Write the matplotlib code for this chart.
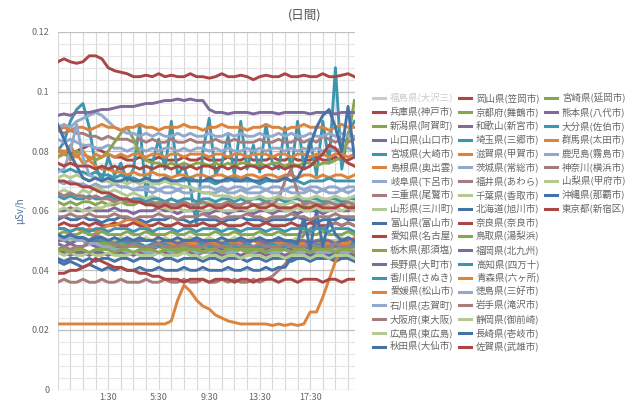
import numpy as np
import matplotlib
matplotlib.use("Agg")
import matplotlib.pyplot as plt
from matplotlib.lines import Line2D

plt.rcParams['font.family'] = ['Noto Sans CJK JP', 'DejaVu Sans']

# readings every 30 min, x = hours after 21:30 of the previous day
hours = np.arange(48) * 0.5
tick_hours = [4, 8, 12, 16, 20]
tick_labels = ["1:30", "5:30", "9:30", "13:30", "17:30"]
ytick_vals = [0, 0.02, 0.04, 0.06, 0.08, 0.1, 0.12]
ytick_labels = ["0", "0.02", "0.04", "0.06", "0.08", "0.1", "0.12"]

names = ["福島県(大沢三)", "兵庫県(神戸市)", "新潟県(阿賀町)", "山口県(山口市)", "宮城県(大崎市)",
         "島根県(奥出雲)", "岐阜県(下呂市)", "三重県(尾鷲市)", "山形県(三川町)", "富山県(富山市)",
         "愛知県(名古屋)", "栃木県(那須塩)", "長野県(大町市)", "香川県(さぬき)", "愛媛県(松山市)",
         "石川県(志賀町)", "大阪府(東大阪)", "広島県(東広島)", "秋田県(大仙市)",
         "岡山県(笠岡市)", "京都府(舞鶴市)", "和歌山(新宮市)", "埼玉県(三郷市)", "滋賀県(甲賀市)",
         "茨城県(常総市)", "福井県(あわら)", "千葉県(香取市)", "北海道(旭川市)", "奈良県(奈良市)",
         "鳥取県(湯梨浜)", "福岡県(北九州)", "高知県(四万十)", "青森県(六ヶ所)", "徳島県(三好市)",
         "岩手県(滝沢市)", "静岡県(御前崎)", "長崎県(壱岐市)", "佐賀県(武雄市)",
         "宮崎県(延岡市)", "熊本県(八代市)", "大分県(佐伯市)", "群馬県(太田市)", "鹿児島(霧島市)",
         "神奈川(横浜市)", "山梨県(甲府市)", "沖縄県(那覇市)", "東京都(新宿区)"]

# values in nSv/h (1/1000 of the plotted uSv/h)
fukushima = []  # series hidden in the chart
hyogo = [80,80,79,80,81,82,81,80,79,78,78,77,77,78,77,77,78,77,77,77,78,77,77,78,77,77,77,78,77,77,78,77,77,77,78,77,77,78,77,77,77,78,77,77,78,77,77,78]
niigata = [63,62,63,62,63,63,62,63,62,62,63,62,62,63,62,62,63,62,62,62,63,62,62,63,62,62,62,63,62,62,63,62,62,62,63,62,62,63,62,62,61,62,62,63,62,62,61,62]
yamaguchi = [60,60,61,60,60,61,60,60,60,61,60,60,59,60,60,60,61,60,60,59,60,60,60,60,59,60,60,59,60,60,60,59,60,60,59,60,60,60,59,60,60,60,59,60,61,60,60,61]
miyagi = [80,83,90,94,96,88,75,70,78,72,76,70,74,89,65,76,84,74,90,72,75,68,55,80,91,72,76,85,72,90,74,82,73,89,76,74,88,73,90,75,84,72,90,76,108,74,86,90]
shimane = [78,80,77,79,76,77,75,74,74,73,73,72,73,72,72,73,72,72,71,72,72,71,72,72,71,72,72,71,72,71,72,72,71,72,72,71,72,72,71,72,72,71,72,71,72,72,71,72]
gifu = [84,83,84,83,82,82,81,81,82,81,81,80,81,81,80,81,80,81,81,80,81,80,81,81,80,81,80,81,80,80,81,80,81,80,81,81,80,81,80,81,80,81,80,81,80,81,81,80]
mie = [87,86,87,86,86,85,85,84,85,84,84,84,83,84,83,84,83,83,84,83,83,84,83,83,83,84,83,83,84,83,83,83,84,83,83,84,83,83,84,83,84,83,85,84,83,84,83,84]
yamagata = [66,67,66,65,67,66,68,67,66,67,66,65,66,65,64,65,64,63,64,63,63,62,63,62,63,62,62,63,62,62,63,62,62,62,63,62,62,63,62,62,62,63,62,62,63,62,62,63]
toyama = [57,58,57,57,58,57,57,56,57,57,58,57,57,57,56,57,57,57,58,57,57,56,57,57,57,57,56,57,57,58,57,57,57,56,57,57,57,57,58,57,57,56,57,57,57,58,57,57]
aichi = [55,56,55,55,56,55,56,55,55,56,55,55,56,55,55,55,56,55,55,56,55,55,55,56,55,55,56,55,55,55,56,55,55,56,55,55,55,56,55,55,56,55,55,55,56,55,56,55]
tochigi = [78,79,78,80,79,78,77,78,80,83,86,88,84,79,77,76,76,75,76,75,76,75,76,76,75,76,75,76,75,76,76,75,76,75,76,76,75,76,75,76,76,75,76,76,77,78,84,97]
nagano = [49,48,49,48,48,49,48,48,49,48,48,48,49,48,48,47,48,48,48,47,48,48,48,47,48,48,47,48,48,48,47,48,48,47,48,48,48,47,48,48,47,48,48,47,48,48,47,48]
kagawa = [74,73,74,73,73,72,73,72,72,71,72,71,71,70,71,70,70,71,70,70,70,71,70,70,70,69,70,70,71,70,70,70,69,70,70,70,71,70,70,69,70,70,70,71,70,70,70,70]
ehime = [54,54,53,54,53,54,53,54,55,55,56,57,57,56,55,53,51,50,49,49,50,49,49,50,49,49,49,50,49,49,49,50,49,49,50,49,49,50,49,49,49,50,49,49,50,49,49,50]
ishikawa = [70,69,70,69,69,68,69,68,68,69,68,68,67,68,68,68,67,68,68,67,68,68,67,68,68,67,68,67,68,68,67,68,68,67,68,68,67,68,68,67,68,68,67,68,68,67,68,68]
osaka = [36,37,36,36,37,36,36,37,36,36,37,36,36,36,37,36,36,37,36,36,37,36,36,37,36,36,37,36,37,36,36,37,36,37,38,40,42,45,49,52,54,55,54,55,56,55,56,55]
hiroshima = [60,61,60,61,60,60,61,61,62,63,63,64,63,63,62,62,61,61,60,61,60,60,61,60,60,61,60,60,60,61,60,60,61,60,60,61,60,60,61,60,60,61,60,60,61,60,61,60]
akita = [44,43,44,44,43,44,43,44,44,43,44,44,43,44,44,44,43,44,44,43,44,44,44,43,44,44,43,44,44,44,43,44,44,43,44,44,44,43,44,44,43,44,44,44,43,44,44,43]
okayama = [110,111,110,109.5,110,112,112,111,108,107,106.5,106,105,105,105.5,105,106,105,105.5,105,105,106,105,105,104.5,105,106,105,105,105.5,105,104,105,105.5,105,105,106,105,105,105.5,105,105,106,105,105,105.5,106,105]
kyoto = [51,50,51,50,50,49,50,49,49,48,49,48,48,48,47,48,48,47,48,47,48,48,47,48,47,48,48,47,48,48,47,48,47,48,48,47,48,48,47,48,48,47,48,48,47,48,48,47]
wakayama = [46,46,45,46,46,45,46,46,45,46,46,46,45,46,46,45,46,46,46,45,46,46,45,46,46,46,45,46,46,45,46,46,46,45,46,46,45,46,46,46,45,46,46,45,46,46,46,45]
saitama = [65,64,65,64,64,65,64,64,65,64,64,63,64,64,63,64,64,63,64,63,64,64,63,64,64,63,64,64,63,64,63,64,64,63,64,64,63,64,64,63,64,64,63,64,64,63,64,64]
shiga = [81,79,82,78,80,77,79,78,79,78,79,78,79,79,78,79,79,78,79,79,78,79,79,79,78,79,79,78,79,79,78,79,79,79,78,79,79,78,79,79,78,79,79,78,79,79,78,79]
ibaraki = [88,89,88,90,91,92,93,92,90,88,87,86,86,85,86,85,86,85,85,86,85,86,85,85,86,85,85,86,85,86,85,85,86,85,85,86,85,86,85,85,86,85,85,86,85,86,85,85]
fukui = [66,65,66,65,65,64,65,64,64,63,64,63,63,63,62,63,62,63,62,62,63,62,62,63,62,62,62,63,62,62,63,62,62,63,62,64,70,74,66,62,63,62,62,63,62,62,63,62]
chiba = [50,51,50,50,51,50,50,51,50,50,51,50,50,50,51,50,50,51,50,50,50,51,50,50,51,50,50,50,51,50,50,51,50,50,50,51,50,50,51,50,50,50,51,50,50,51,50,50]
hokkaido = [43,42,43,42,41,42,41,40,41,40,41,40,40,41,40,40,41,40,40,40,41,40,40,41,40,40,40,41,40,40,41,40,40,41,40,41,41,44,44,44,45,44,44,45,44,44,45,44]
nara = [70,70,69,69,68,68,67,66,66,65,64,64,63,63,62,62,61,62,61,61,62,61,61,61,62,61,61,62,61,61,61,62,61,61,62,61,61,61,62,61,61,62,61,61,61,62,61,61]
tottori = [52,53,52,52,53,52,52,53,52,52,52,53,52,52,53,52,52,52,53,52,52,53,52,52,52,53,52,52,53,52,52,52,53,52,52,53,52,52,52,53,52,52,53,52,52,52,53,52]
fukuoka = [50,50,49,50,50,49,50,50,50,49,50,50,49,50,50,50,49,50,50,49,50,50,50,49,50,50,49,50,50,50,49,50,50,49,50,50,50,49,50,50,49,50,50,50,49,50,50,49]
kochi = [52,51,52,51,51,50,51,50,50,49,50,49,49,49,48,49,48,49,48,48,49,48,48,49,48,48,48,49,48,48,49,48,48,48,49,48,48,49,48,48,48,49,48,48,49,48,48,49]
aomori = [22,22,22,22,22,22,22,22,22,22,22,22,22,22,22,22,22,22,23,30,35,33,30,28,27,25,24,23,22.5,22,22,22,22,22,21.5,22,21.5,22,21.5,22,26,26,31,37,43,47,49,51]
tokushima = [51,50,51,50,50,49,49,48,48,47,47,46,46,47,46,46,46,47,46,46,46,47,46,46,46,47,46,46,46,47,46,46,47,46,46,46,47,46,46,46,47,46,46,46,47,46,46,47]
iwate = [47,48,47,48,48,50,52,51,50,49,48,48,49,48,48,48,49,48,48,48,49,48,48,48,49,48,48,48,49,48,48,48,49,48,48,48,49,48,48,48,49,48,48,48,49,48,48,48]
shizuoka = [46,45,46,45,45,46,45,45,46,45,45,45,46,45,45,45,46,45,45,45,46,45,45,44,45,45,44,45,45,44,45,45,45,44,45,45,44,45,45,45,44,45,45,44,45,45,45,44]
nagasaki = [52,51,52,51,51,50,51,51,50,51,50,51,50,51,50,50,51,50,50,51,50,50,51,50,50,50,51,50,50,51,50,50,51,50,50,51,50,50,49,58,47,60,48,57,52,50,51,50]
saga = [39,39,40,40,41,42,44,43,42,41,41,40,40,39,39,38,38,37,37,37,36,37,37,37,36,37,37,37,36,37,37,36,37,37,37,36,37,37,36,37,37,37,36,37,37,36,37,37]
miyazaki = [47,47,46,47,47,46,47,47,47,46,47,47,46,47,47,47,46,47,47,46,47,47,47,46,47,47,46,47,47,47,46,47,47,46,47,47,47,46,47,47,46,47,47,47,46,47,47,46]
kumamoto = [92,92.5,92,93,93,93,93.5,94,94,94.5,95,95,95,95.5,96,96,96.5,97,97,97.5,97,97.5,97,97,94,93,93,92.5,93,93,93,92.5,93,93,93,92.5,93,93,93,93,92.5,93,93,93,92.5,93,93,93]
oita = [54,54,53,54,54,53,54,54,53,54,54,54,53,54,54,53,54,54,54,53,54,54,53,54,54,54,53,54,54,53,54,54,54,53,54,54,53,54,54,54,53,54,54,53,54,54,54,53]
gunma = [87,88,87,88,88,87,88,89,88,88,87,88,88,89,88,88,87,88,88,88,89,88,88,87,88,88,89,88,88,88,87,88,88,89,88,88,87,88,88,89,88,88,88,87,88,89,88,88]
kagoshima = [73,74,80,89,78,72,71,70,70,69,68,68,67,67,67,66,67,66,66,67,66,66,67,66,66,66,67,66,66,67,66,66,66,67,66,66,67,66,66,66,67,66,67,66,66,67,66,67]
kanagawa = [58,58,59,58,58,59,58,58,58,59,58,58,57,58,58,58,59,58,58,57,58,58,58,59,58,58,57,58,58,58,59,58,58,57,58,58,58,59,58,58,57,58,58,58,59,58,58,58]
yamanashi = [71,72,71,72,71,70,71,70,70,69,70,69,70,69,70,69,69,70,69,69,68,68,67,66,66,65,65,65,64,65,64,64,65,64,64,65,64,64,65,64,64,65,64,64,65,64,64,65]
okinawa = [89,84,79,75,71,70,71,70,71,70,70,71,70,70,71,70,70,71,70,70,71,70,70,70,71,70,70,71,70,70,71,70,70,71,70,70,71,70,71,75,82,88,92,94,88,80,95,78]
tokyo = [76,75,76,75,75,75,74,75,74,75,74,75,75,74,75,74,75,75,74,75,74,75,74,75,75,74,75,74,75,74,75,75,74,75,74,75,74,75,75,74,75,77,79,82,81,78,76,75]

series = [fukushima, hyogo, niigata, yamaguchi, miyagi, shimane, gifu, mie, yamagata, toyama,
          aichi, tochigi, nagano, kagawa, ehime, ishikawa, osaka, hiroshima, akita,
          okayama, kyoto, wakayama, saitama, shiga, ibaraki, fukui, chiba, hokkaido, nara,
          tottori, fukuoka, kochi, aomori, tokushima, iwate, shizuoka, nagasaki, saga,
          miyazaki, kumamoto, oita, gunma, kagoshima, kanagawa, yamanashi, okinawa, tokyo]

palette = ['#4572A7', '#AA4643', '#89A54E', '#80699B', '#3D96AE',
           '#DB843D', '#92A8CD', '#A47D7C', '#B5CA92']

W, H = 640, 401
fig = plt.figure(figsize=(W / 100, H / 100), dpi=100)
ax = fig.add_axes([57.7 / W, 1 - 389.5 / H, (355 - 57.7) / W, (389.5 - 32) / H])

for i, vals in enumerate(series):
    if i == 0:
        continue  # hidden series
    ax.plot(hours, np.array(vals) / 1000., color=palette[i % 9], lw=2.1,
            solid_joinstyle='round', zorder=3 + i * 0.01)

ax.set_xlim(0, 23.55)
ax.set_ylim(0, 0.12)
ax.set_xticks(tick_hours)
ax.set_xticklabels(tick_labels)
ax.set_yticks(ytick_vals)
ax.set_yticklabels(ytick_labels)
ax.grid(False)
for t in np.arange(0, 24):
    ax.axvline(t, color='#D8D8D8', lw=0.8, zorder=1)
for v in np.arange(0, 0.1201, 0.004):
    ax.axhline(v, color='#E6E6E6', lw=0.8, zorder=1)
for v in ytick_vals:
    ax.axhline(v, color='#C0C0C0', lw=0.9, zorder=1.5)
ax.tick_params(which='both', length=0, labelsize=6.5, labelcolor='#666666')
ax.tick_params(axis='y', pad=6)
ax.tick_params(axis='x', pad=2.5)
for s in ax.spines.values():
    s.set_visible(False)

fig.text(20 / W, 1 - 211 / H, "μSv/h", rotation=90, ha='center', va='center',
         fontsize=7, color='#4d759e')
fig.text(305 / W, 1 - 15 / H, "(日間)", ha='center', va='center', fontsize=9, color='#555555')

# legend: 19 + 19 + 9 entries, filled column by column
col_x = [373, 459, 545]
col_start = [0, 19, 38]
for c in range(3):
    stop = col_start[c + 1] if c < 2 else len(names)
    for r, i in enumerate(range(col_start[c], stop)):
        y = 1 - (98.3 + 13.8 * r) / H
        x0 = col_x[c]
        col = palette[i % 9] if i > 0 else '#CCCCCC'
        tcol = '#666666' if i > 0 else '#CCCCCC'
        fig.add_artist(Line2D([x0 / W, (x0 + 12) / W], [y, y], color=col, lw=2.2))
        fig.text((x0 + 17) / W, y, names[i], ha='left', va='center', fontsize=6.8, color=tcol)

plt.savefig("out.png", dpi=100)
